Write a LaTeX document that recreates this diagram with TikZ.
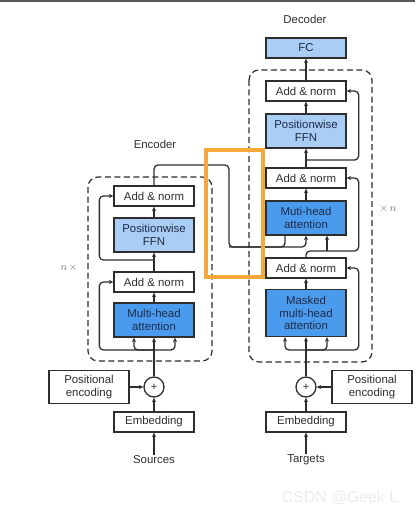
\documentclass[tikz,border=0pt]{standalone}
\usepackage{fontspec}
\setmainfont{Liberation Sans}
\usepackage{tikz}
\usetikzlibrary{calc}
\usetikzlibrary{arrows.meta, positioning}
\definecolor{ink}{HTML}{2E2E2E}
\definecolor{lightblue}{HTML}{A9CDF5}
\definecolor{darkblue}{HTML}{4A9BEE}
\definecolor{boxtext}{HTML}{1E2B45}
\definecolor{hilite}{HTML}{F7A838}

\begin{document}
\begin{tikzpicture}[x=1pt, y=-1pt, font=\fontsize{11.4}{12.7}\selectfont, ink]
 \tikzstyle{box}=[rectangle, draw=ink, line width=1.3pt, fill=white, text=ink, align=center, minimum width=80pt, minimum height=20pt, inner sep=1pt]
 \tikzstyle{ffnbox}=[box, fill=lightblue, text=boxtext, minimum height=34pt]
 \tikzstyle{attbox}=[box, fill=darkblue, text=boxtext, minimum height=34pt]
 \tikzstyle{plus}=[circle, draw=ink, line width=1.3pt, fill=white, minimum size=20pt, inner sep=0pt, font=\fontsize{11}{11}\selectfont]
 \tikzstyle{lbl}=[text=ink, inner sep=1pt]
 \tikzstyle{wire}=[draw=ink, line width=1.3pt]
 \tikzstyle{line}=[wire, -{Stealth[length=4.5pt, width=4pt]}]
 \tikzstyle{frame}=[draw=ink, line width=1.2pt, dash pattern=on 6pt off 3.5pt, rounded corners=10pt]

 \useasboundingbox (0,0) rectangle (415,513);
 \draw[draw=ink!80, line width=1.6pt] (0,0.8) -- (415,0.8);

 % encoder
 \draw[frame] (88,177) rectangle (212,361);
 \node[lbl] (elabel) at (155,144) {Encoder};
 \node[lbl, text=ink!70] (erep) at (69,268) {$n\,\times$};
 \node[box] (eadd2) at (154,196) {Add \& norm};
 \node[ffnbox] (effn) at (154,235) {Positionwise\\FFN};
 \node[box] (eadd1) at (154,282) {Add \& norm};
 \node[attbox] (eatt) at (154,320) {Multi-head\\attention};
 \node[plus] (eplus) at (154,387) {+};
 \node[box, minimum height=33pt] (epos) at (89,387) {Positional\\encoding};
 \node[box] (eemb) at (154,422) {Embedding};
 \node[lbl] (esrc) at (154,460) {Sources};
 \coordinate (ebr) at (154,350);
 \coordinate (emid) at (154,260);

 \path [line] (esrc) -- (eemb);
 \path [line] (eemb) -- (eplus);
 \path [line] (epos) -- (eplus);
 \draw [wire] (eplus) -- (ebr);
 \path [line] (ebr) -- (eatt);
 \path [line, rounded corners=4pt] (ebr) -| ([xshift=-20pt]eatt.south);
 \path [line, rounded corners=4pt] (ebr) -| ([xshift=21pt]eatt.south);
 \path [line, rounded corners=4pt] (ebr) -| ([xshift=-14pt]eadd1.west) -- (eadd1.west);
 \path [line] (eatt) -- (eadd1);
 \path [line] (eadd1) -- (effn);
 \path [line, rounded corners=4pt] (emid) -| ([xshift=-14pt]eadd2.west) -- (eadd2.west);
 \path [line] (effn) -- (eadd2);

 % decoder
 \draw[frame] (249,70) rectangle (372,362);
 \node[lbl] (dlabel) at (305,19) {Decoder};
 \node[lbl, text=ink!70] (drep) at (388,209) {$\times\, n$};
 \node[ffnbox, minimum height=20pt] (dfc) at (306,48) {FC};
 \node[box] (dadd3) at (306,91) {Add \& norm};
 \node[ffnbox] (dffn) at (306,131) {Positionwise\\FFN};
 \node[box] (dadd2) at (306,178) {Add \& norm};
 \node[attbox] (datt) at (306,218) {Muti-head\\attention};
 \node[box] (dadd1) at (306,268) {Add \& norm};
 \node[attbox, minimum height=47pt] (dmask) at (306,313) {Masked\\multi-head\\attention};
 \node[plus] (dplus) at (306,387) {+};
 \node[box, minimum height=33pt] (dpos) at (372,387) {Positional\\encoding};
 \node[box] (demb) at (306,422) {Embedding};
 \node[lbl] (dtgt) at (306,460) {Targets};
 \coordinate (dbr) at (306,350);
 \coordinate (dq) at (327,251);
 \coordinate (dmid) at (306,160);

 \path [line] (dtgt) -- (demb);
 \path [line] (demb) -- (dplus);
 \path [line] (dpos) -- (dplus);
 \draw [wire] (dplus) -- (dbr);
 \path [line] (dbr) -- (dmask);
 \path [line, rounded corners=4pt] (dbr) -| ([xshift=-21pt]dmask.south);
 \path [line, rounded corners=4pt] (dbr) -| ([xshift=21pt]dmask.south);
 \path [line, rounded corners=4pt] (dbr) -| ([xshift=12pt]dadd1.east) -- (dadd1.east);
 \path [line] (dmask) -- (dadd1);
 \path [line, rounded corners=4pt] (dadd1.north) |- (dq) -| ([xshift=12pt]dadd2.east) -- (dadd2.east);
 \path [line] (dq) -- (dq |- datt.south);
 \path [line] (datt) -- (dadd2);
 \path [line] (dadd2) -- (dffn);
 \path [line, rounded corners=4pt] (dmid) -| ([xshift=12pt]dadd3.east) -- (dadd3.east);
 \path [line] (dffn) -- (dadd3);
 \path [line] (dadd3) -- (dfc);

 % encoder output into decoder
 \coordinate (eout) at (229,247);
 \draw [wire, rounded corners=4pt] (eadd2.north) |- (229,165) -- (eout) -| ([xshift=-21pt]datt.south);
 \path [line, rounded corners=4pt] (eout) -| (datt.south);

 \draw[hilite, line width=3.8pt] (206,150) rectangle (263,277);
 \node[text=black!8, font=\fontsize{15.8}{16}\selectfont] (mark) at (340,498) {CSDN @Geek L};
\end{tikzpicture}
\end{document}
